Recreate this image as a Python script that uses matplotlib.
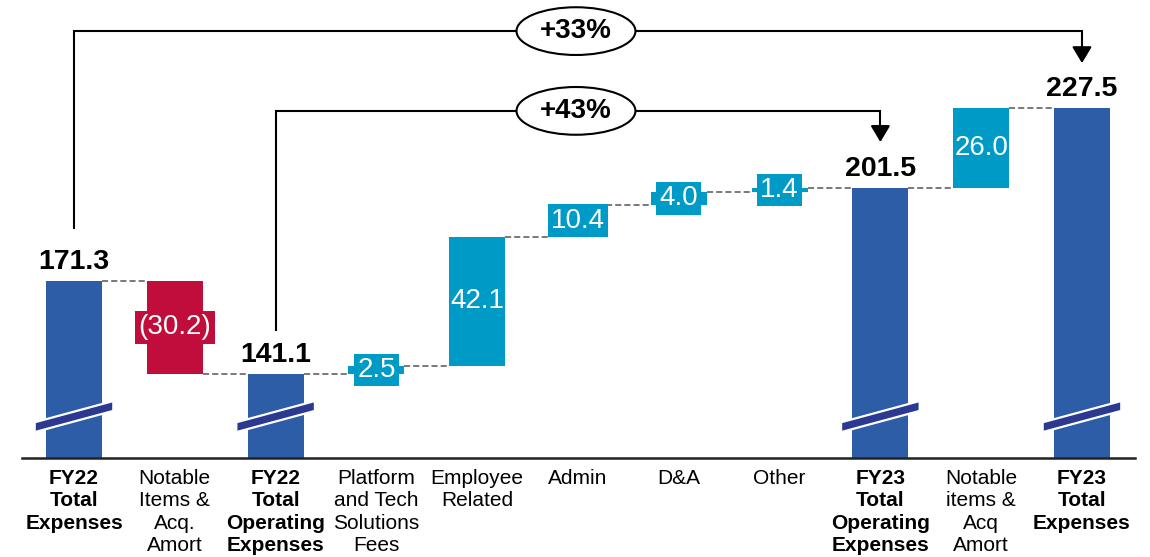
import matplotlib.pyplot as plt
from matplotlib.patches import Polygon, Ellipse

plt.rcParams['font.family'] = ['Liberation Sans', 'DejaVu Sans']

# Waterfall data (USD m)
categories = [
    "FY22\nTotal\nExpenses", "Notable\nItems &\nAcq.\nAmort", "FY22\nTotal\nOperating\nExpenses",
    "Platform\nand Tech\nSolutions\nFees", "Employee\nRelated", "Admin", "D&A", "Other",
    "FY23\nTotal\nOperating\nExpenses", "Notable\nitems &\nAcq\nAmort", "FY23\nTotal\nExpenses",
]
values = [171.3, -30.2, 141.1, 2.5, 42.1, 10.4, 4.0, 1.4, 201.5, 26.0, 227.5]
is_total = [True, False, True, False, False, False, False, False, True, False, True]
growth_labels = ["+33%", "+43%"]
growth_pairs = [(0, 10), (2, 8)]

DARK_BLUE = '#2D5DA7'
LIGHT_BLUE = '#009AC7'
RED = '#C00D3B'
BREAK_BLUE = '#2B3990'
BAR_W = 0.556
Y_MIN = 113.8

fig = plt.figure(figsize=(11.5, 5.57), dpi=100)
ax = fig.add_axes([22 / 1150, 99 / 557, 1113 / 1150, 458 / 557])
ax.set_xlim(-0.516, 10.526)
ax.set_ylim(Y_MIN, Y_MIN + 458 / 3.08)

# running level for the floating bars
tops = []
bottoms = []
ends = []
level = 0
for v, tot in zip(values, is_total):
    if tot:
        bottoms.append(0)
        tops.append(v)
        level = v
    else:
        lo, hi = sorted([level, level + v])
        bottoms.append(lo)
        tops.append(hi)
        level = level + v
    ends.append(level)

for i, (v, tot) in enumerate(zip(values, is_total)):
    if tot:
        color = DARK_BLUE
    elif v < 0:
        color = RED
    else:
        color = LIGHT_BLUE
    ax.bar(i, tops[i] - bottoms[i], bottom=bottoms[i], width=BAR_W, color=color, zorder=2)

    if tot:
        ax.annotate(f"{v:.1f}", (i, tops[i]), xytext=(0, 4), textcoords='offset points',
                    ha='center', va='bottom', fontsize=20.5, fontweight='bold', color='black', zorder=5)
        # axis break marker
        hw = 0.39
        band = Polygon([(i - hw, 122.2), (i - hw, 125.4), (i + hw, 132.3), (i + hw, 129.1)],
                       closed=True, facecolor=BREAK_BLUE, edgecolor='white', linewidth=1.6, zorder=3)
        ax.add_patch(band)
    else:
        txt = f"({abs(v):.1f})" if v < 0 else f"{v:.1f}"
        # short bars and the negative bar get a label box in the bar colour
        box = None
        if v < 0 or abs(v) < 20:
            box = dict(boxstyle='square,pad=0.12', facecolor=color, edgecolor='none')
        ax.text(i, (tops[i] + bottoms[i]) / 2, txt, ha='center', va='center', fontsize=20,
                color='white', zorder=4, bbox=box)

# dashed connectors between bars
for i in range(len(values) - 1):
    ax.plot([i + BAR_W / 2, i + 1 - BAR_W / 2], [ends[i], ends[i]], color='#555555',
            linestyle=(0, (4, 2)), linewidth=1.1, zorder=1)

# growth brackets
bracket_levels = [(188.5, 252.4, 242.0), (155.4, 226.5, 216.4)]
for (a, b), lab, (y0, ytop, ytip) in zip(growth_pairs, growth_labels, bracket_levels):
    ax.plot([a, a, b, b], [y0, ytop, ytop, ytip + 4], color='black', linewidth=1.5,
            solid_joinstyle='miter', zorder=4)
    ax.annotate('', xy=(b, ytip), xytext=(b, ytip + 4.5),
                arrowprops=dict(arrowstyle='-|>,head_width=0.3,head_length=0.5', mutation_scale=20,
                                color='black', lw=1.5, shrinkA=0, shrinkB=0), zorder=4)
    ax.add_patch(Ellipse((4.98, ytop), 1.18, 15.5, facecolor='white', edgecolor='black',
                         linewidth=1.5, zorder=5))
    ax.text(4.98, ytop, lab, ha='center', va='center', fontsize=20, fontweight='bold', zorder=6)

ax.set_xticks(range(len(categories)))
ax.set_xticklabels(categories, fontsize=15, linespacing=1.22)
for lbl, tot in zip(ax.get_xticklabels(), is_total):
    if tot:
        lbl.set_fontweight('bold')
ax.tick_params(axis='x', length=0, pad=8)
ax.set_yticks([])
for side in ['top', 'left', 'right']:
    ax.spines[side].set_visible(False)
ax.spines['bottom'].set_linewidth(1.8)
ax.spines['bottom'].set_color('#222222')

fig.savefig('out.png', dpi=100)
